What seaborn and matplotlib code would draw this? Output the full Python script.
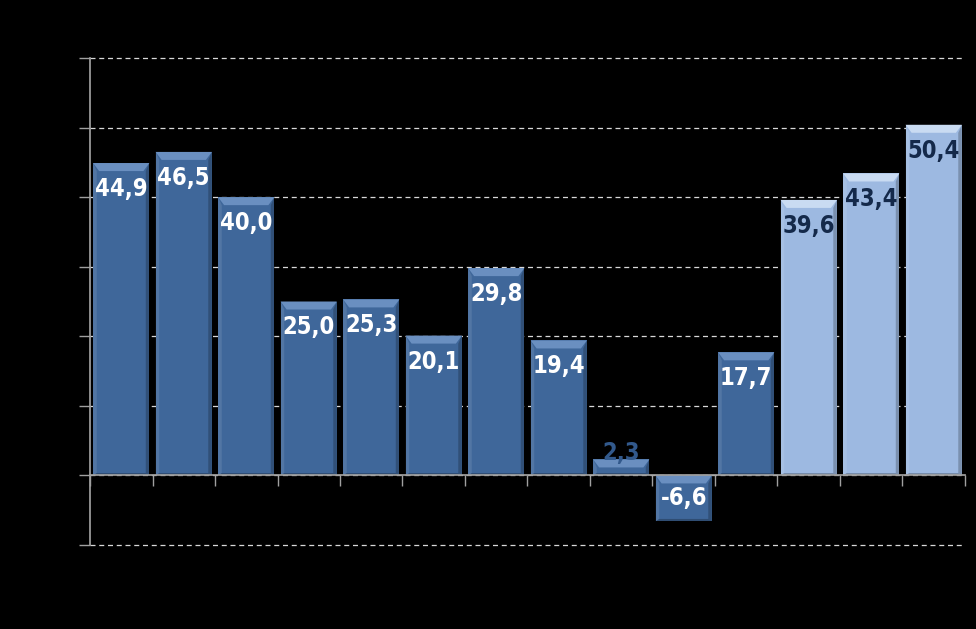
import matplotlib
matplotlib.use("Agg")
import matplotlib.pyplot as plt
import seaborn as sns
import pandas as pd
import numpy as np
from matplotlib.patches import Polygon

categories = ["1", "2", "3", "4", "5", "6", "7", "8", "9", "10", "11", "12", "13", "14"]
values = [44.9, 46.5, 40.0, 25.0, 25.3, 20.1, 29.8, 19.4, 2.3, -6.6, 17.7, 39.6, 43.4, 50.4]
groups = ["actual"] * 11 + ["forecast"] * 3
labels = ["44,9", "46,5", "40,0", "25,0", "25,3", "20,1", "29,8", "19,4", "2,3", "-6,6", "17,7", "39,6", "43,4", "50,4"]

bar_colors = {"actual": "#3F679A", "forecast": "#9DB9E1"}
bevel_colors = {"actual": "#6A8FC0", "forecast": "#C9DBF2"}
label_colors = {"actual": "#FFFFFF", "forecast": "#14294A"}

df = pd.DataFrame({"cat": categories, "val": values, "grp": groups})

sns.set_theme(style="dark")
plt.rcParams["font.family"] = ["DejaVu Sans"]

fig = plt.figure(figsize=(9.76, 6.29), dpi=100, facecolor="black")
ax = fig.add_axes([90 / 976, 1 - 545 / 629, (965 - 90) / 976, (545 - 58) / 629])
ax.set_facecolor("black")

sns.barplot(data=df, x="cat", y="val", hue="grp", palette=bar_colors,
            dodge=False, width=0.9, legend=False, ax=ax, saturation=1)

ax.set_ylim(-10, 60)
ax.set_xlim(-0.5, len(categories) - 0.5)

# gridlines
ax.set_yticks(np.arange(-10, 61, 10))
ax.yaxis.grid(True, color="#D8D8D8", linestyle=(0, (4, 3)), linewidth=0.9)
for gl in ax.yaxis.get_gridlines():
    gl.set_clip_on(False)
ax.xaxis.grid(False)
ax.set_axisbelow(True)
ax.set_yticklabels([])
ax.set_xticks(np.arange(-0.5, len(categories), 1.0))
ax.set_xticklabels([])
ax.set_xlabel("")
ax.set_ylabel("")
ax.tick_params(axis="y", direction="out", length=8, color="#A0A0A0", width=1, left=True)
ax.tick_params(axis="x", direction="out", length=8, color="#A0A0A0", width=1, bottom=True)

for s in ["top", "right"]:
    ax.spines[s].set_visible(False)
ax.spines["left"].set_color("#A0A0A0")
ax.spines["bottom"].set_color("#A0A0A0")
ax.spines["bottom"].set_position(("data", 0))
ax.spines["bottom"].set_zorder(5)

# bevel decoration derived from bar patches
px_per_unit_y = (545 - 58) / 70.0
px_per_unit_x = (965 - 90) / len(categories)
dy = 8 / px_per_unit_y
dx = 6 / px_per_unit_x
patches = sorted(ax.patches, key=lambda p: p.get_x())
for p, grp in zip(patches, groups):
    x0 = p.get_x()
    x1 = x0 + p.get_width()
    y0 = p.get_y()
    y1 = y0 + p.get_height()
    top, bot = max(y0, y1), min(y0, y1)
    p.set_edgecolor("none")
    ax.add_patch(Polygon([(x0, top), (x1, top), (x1 - dx, top - dy), (x0 + dx, top - dy)],
                         closed=True, facecolor=bevel_colors[grp], edgecolor="none", zorder=3))
    ax.add_patch(Polygon([(x0, top), (x0 + dx * 0.6, top - dy), (x0 + dx * 0.6, bot + dy * 0.3), (x0, bot)],
                         closed=True, facecolor="white", alpha=0.10, edgecolor="none", zorder=3))
    ax.add_patch(Polygon([(x1, top), (x1 - dx * 0.6, top - dy), (x1 - dx * 0.6, bot + dy * 0.3), (x1, bot)],
                         closed=True, facecolor="black", alpha=0.22, edgecolor="none", zorder=3))
    ax.add_patch(Polygon([(x0, bot), (x1, bot), (x1 - dx * 0.6, bot + dy * 0.3), (x0 + dx * 0.6, bot + dy * 0.3)],
                         closed=True, facecolor="black", alpha=0.25, edgecolor="none", zorder=3))

# labels
off = 26 / px_per_unit_y
for i, (v, lab, grp) in enumerate(zip(values, labels, groups)):
    if abs(v) < 5:
        y = v - 0.8
        color = "#32598C"
        va = "bottom"
    elif v < 0:
        y = v / 2
        color = label_colors[grp]
        va = "center"
    else:
        y = v - off
        color = label_colors[grp]
        va = "center"
    ax.text(i, y, lab, ha="center", va=va, fontsize=17, fontweight="bold",
            fontstretch="condensed", color=color, zorder=6)

fig.savefig("out.png", dpi=100, facecolor="black")
